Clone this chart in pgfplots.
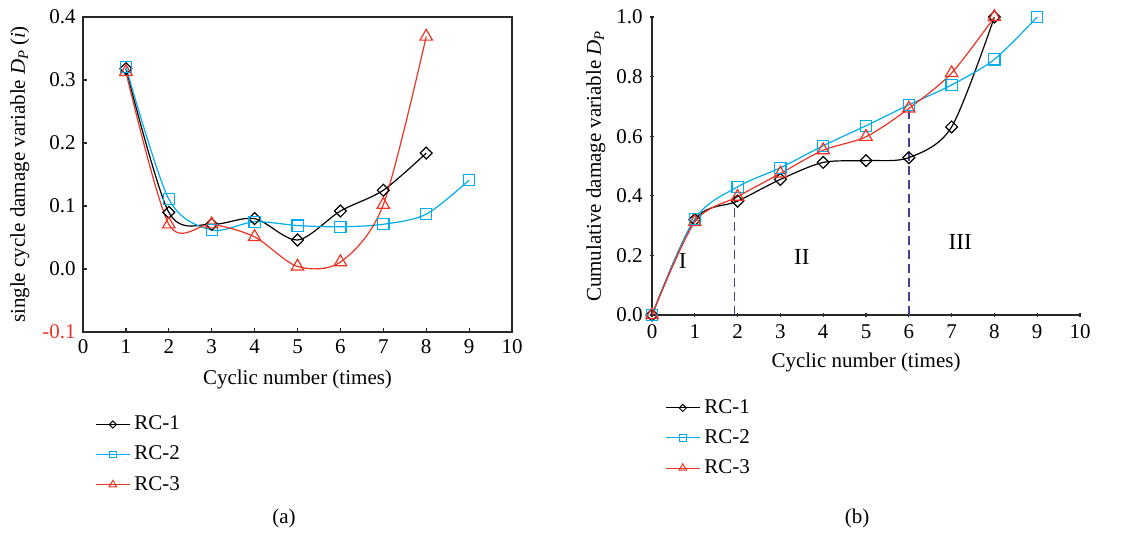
\documentclass[border=0pt]{standalone}
\usepackage{pgfplots}
\pgfplotsset{compat=1.18}
\usepackage{fontspec}
\setmainfont{Liberation Serif}
\definecolor{cCyan}{RGB}{0,174,239}
\definecolor{cRed}{RGB}{237,52,36}
\definecolor{cDash}{RGB}{72,62,150}
\definecolor{cAx}{RGB}{40,40,40}
\begin{document}
\fontsize{10.5}{12}\selectfont
\begin{tikzpicture}
\path[use as bounding box] (0,0) rectangle (569pt,266.5pt);
\pgfplotsset{
  every axis/.append style={
    scale only axis,
    /pgf/number format/assume math mode=true,
    font=\fontsize{10.5}{12}\selectfont,
    tick align=inside, tick pos=left,
    major tick length=2pt,
    axis line style={cAx, line width=0.7pt},
    every tick/.style={cAx, line width=0.6pt},
    xmin=0, xmax=10, xtick={0,1,...,10},
    legend cell align=left,
    legend image code/.code={\draw[mark repeat=2,mark phase=2,#1,line width=0.5pt,every mark/.append style={scale=0.6, fill=white, line width=0.5pt}] plot coordinates {(0pt,0pt) (8.5pt,0pt) (17pt,0pt)};},
  },
  s1/.style={black, line width=0.6pt, smooth, tension=0.5, mark=square, mark size=2.1pt, mark options={rotate=45, solid, fill=white, line width=0.6pt}},
  s2/.style={cCyan, line width=0.6pt, smooth, tension=0.5, mark=square, mark size=2.8pt, mark options={solid, fill=white, line width=0.6pt}},
  s3/.style={cRed, line width=0.6pt, smooth, tension=0.5, mark=triangle, mark size=3.6pt, mark options={solid, fill=white, line width=0.6pt}},
}
% (a)
\begin{axis}[
  at={(41.5pt,100.5pt)}, anchor=south west,
  width=214.5pt, height=157.5pt,
  ymin=-0.1, ymax=0.4,
  ytick={-0.1,0,0.1,0.2,0.3,0.4},
  yticklabels={\textcolor{cRed}{-0.1},0.0,0.1,0.2,0.3,0.4},
  xlabel={Cyclic number (times)},
  ylabel={single cycle damage variable \textit{D}\textsubscript{\textit{P}}\,(\textit{i})},
  xlabel style={at={(axis description cs:0.5,-0.152)}, anchor=center},
  ylabel style={at={(axis description cs:-0.147,0.5)}, anchor=center},
  legend style={at={(axis description cs:0.014,-0.24)}, anchor=north west, draw=none, fill=none, row sep=2.5pt, font=\fontsize{10.5}{12}\selectfont},
]
\addplot[s1] coordinates {(1,0.318) (2,0.090) (3,0.071) (4,0.080) (5,0.046) (6,0.092) (7,0.125) (8,0.184)};
\addplot[s2] coordinates {(1,0.321) (2,0.111) (3,0.062) (4,0.075) (5,0.069) (6,0.067) (7,0.071) (8,0.087) (9,0.141)};
\addplot[s3] coordinates {(1,0.313) (2,0.071) (3,0.071) (4,0.051) (5,0.004) (6,0.011) (7,0.102) (8,0.369)};
\legend{RC-1,RC-2,RC-3}
\end{axis}
% (b)
\begin{axis}[
  at={(326pt,109pt)}, anchor=south west,
  width=214pt, height=149pt,
  axis lines=left,
  axis line style={-},
  ymin=0, ymax=1.0,
  ytick={0,0.2,...,1.0},
  yticklabel style={/pgf/number format/.cd, fixed, fixed zerofill, precision=1},
  xlabel={Cyclic number (times)},
  ylabel={Cumulative damage variable \textit{D}\textsubscript{\textit{P}}},
  xlabel style={at={(axis description cs:0.5,-0.161)}, anchor=center},
  ylabel style={at={(axis description cs:-0.131,0.5)}, anchor=center},
  legend style={at={(axis description cs:0.016,-0.255)}, anchor=north west, draw=none, fill=none, row sep=2.5pt, font=\fontsize{10.5}{12}\selectfont},
]
\addplot[cDash, line width=0.8pt, dash pattern=on 4.5pt off 2.5pt, forget plot] coordinates {(1.93,0) (1.93,0.41)};
\addplot[cDash, line width=0.8pt, dash pattern=on 4.5pt off 2.5pt, forget plot] coordinates {(6.0,0) (6.0,0.688)};
\addplot[s1] coordinates {(0,0) (1,0.320) (2,0.382) (3,0.455) (4,0.512) (5,0.518) (6,0.528) (7,0.631) (8,1.0)};
\addplot[s2] coordinates {(0,0) (1,0.322) (2,0.430) (3,0.494) (4,0.568) (5,0.635) (6,0.705) (7,0.772) (8,0.858) (9,1.0)};
\addplot[s3] coordinates {(0,0) (1,0.312) (2,0.397) (3,0.475) (4,0.553) (5,0.598) (6,0.693) (7,0.812) (8,1.0)};
\node[font=\fontsize{11.5}{13}\selectfont] at (axis cs:0.72,0.18) {I};
\node[font=\fontsize{11.5}{13}\selectfont] at (axis cs:3.5,0.196) {II};
\node[font=\fontsize{11.5}{13}\selectfont] at (axis cs:7.2,0.244) {III};
\legend{RC-1,RC-2,RC-3}
\end{axis}
\node at (142pt,7.5pt) {(a)};
\node at (428.5pt,7.5pt) {(b)};
\end{tikzpicture}
\end{document}
